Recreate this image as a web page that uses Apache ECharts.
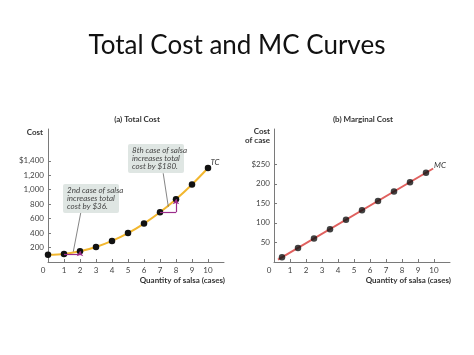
<!DOCTYPE html>
<html>
<head>
<meta charset="utf-8">
<script src="https://cdn.jsdelivr.net/npm/echarts@6/dist/echarts.min.js"></script>
<style>
html,body{margin:0;padding:0;background:#fff;}
#c{width:474px;height:355px;}
</style>
</head>
<body>
<div id="c"></div>
<script>
// ---- data ----
const tcQuantity = [0, 1, 2, 3, 4, 5, 6, 7, 8, 9, 10];
const tcCost = [100, 112, 148, 208, 292, 400, 532, 688, 868, 1072, 1300];
const mcQuantity = [0.5, 1.5, 2.5, 3.5, 4.5, 5.5, 6.5, 7.5, 8.5, 9.5];
const mcCost = [12, 36, 60, 84, 108, 132, 156, 180, 204, 228];
const mcLineQuantity = [0.25, 9.95];
const mcLineCost = [6, 239];
const xTicks = [0, 1, 2, 3, 4, 5, 6, 7, 8, 9, 10];
const tcTicks = [200, 400, 600, 800, 1000, 1200, 1400];
const mcTicks = [50, 100, 150, 200, 250];
const note2nd = ['2nd case of salsa', 'increases total', 'cost by $36.'];
const note8th = ['8th case of salsa', 'increases total', 'cost by $180.'];
// leader lines (data coords): [from, to]
const leader2nd = [[2.06, 696], [1.58, 142]];
const leader8th = [[7.2, 1228], [7.52, 765]];

const F = 'Lato, Roboto, sans-serif';
const axisColor = '#7a7a7a';
const labelColor = '#444';

function fmtCost(v) {
  const s = v.toLocaleString('en-US');
  return v === 1400 ? '$' + s : s;
}

const chart = echarts.init(document.getElementById('c'));

function xAxisDef(gi) {
  return {
    type: 'value', gridIndex: gi, min: 0, max: 11, interval: 1,
    axisLine: {lineStyle: {color: axisColor, width: 1}},
    axisTick: {show: true, inside: true, length: 3, lineStyle: {color: axisColor}, customValues: xTicks},
    axisLabel: {
      color: labelColor, fontSize: 8, fontFamily: F, margin: 4,
      customValues: xTicks,
      formatter: v => v === 0 ? '{z|0}' : String(v),
      rich: {z: {padding: [0, 10, 0, 0], fontSize: 8, fontFamily: F, color: labelColor}}
    },
    splitLine: {show: false}
  };
}

const step = (i) => [
  [{coord: [tcQuantity[i - 1], tcCost[i - 1]], symbol: 'none'}, {coord: [tcQuantity[i], tcCost[i - 1]], symbol: 'none'}],
  [{coord: [tcQuantity[i], tcCost[i - 1]], symbol: 'none'}, {coord: [tcQuantity[i], tcCost[i]], symbol: 'arrow', symbolSize: 5}]
];

const option = {
  animation: false,
  backgroundColor: '#fff',
  title: {
    text: 'Total Cost and MC Curves', left: 'center', top: 28,
    textStyle: {fontFamily: 'Lato, sans-serif', fontWeight: 'normal', fontSize: 26, color: '#111'}
  },
  grid: [
    {left: 48, top: 129, width: 176, height: 133},
    {left: 274, top: 129, width: 176, height: 133}
  ],
  xAxis: [xAxisDef(0), xAxisDef(1)],
  yAxis: [
    {
      type: 'value', gridIndex: 0, min: 0, max: 1840, interval: 200,
      axisLine: {show: true, lineStyle: {color: axisColor}},
      axisTick: {show: true, inside: true, length: 3, lineStyle: {color: axisColor}, customValues: tcTicks},
      axisLabel: {color: labelColor, fontSize: 8, fontFamily: F, margin: 4, customValues: tcTicks, formatter: fmtCost},
      splitLine: {show: false}
    },
    {
      type: 'value', gridIndex: 1, min: 0, max: 340, interval: 50,
      axisLine: {show: true, lineStyle: {color: axisColor}},
      axisTick: {show: true, inside: true, length: 3, lineStyle: {color: axisColor}, customValues: mcTicks},
      axisLabel: {color: labelColor, fontSize: 8, fontFamily: F, margin: 4, customValues: mcTicks,
        formatter: v => v === 250 ? '$250' : String(v)},
      splitLine: {show: false}
    }
  ],
  series: [
    {
      type: 'line', xAxisIndex: 0, yAxisIndex: 0, smooth: 0.3,
      data: tcQuantity.map((q, i) => [q, tcCost[i]]),
      lineStyle: {color: '#f2b72f', width: 2},
      symbol: 'circle', symbolSize: 6.5,
      itemStyle: {color: '#111'},
      z: 3,
      markLine: {
        silent: true, animation: false,
        label: {show: false},
        lineStyle: {color: '#9b2d8a', width: 1.2, type: 'solid'},
        data: [
          ...step(2), ...step(8),
          [{coord: leader2nd[0], symbol: 'none', lineStyle: {color: '#666', width: 0.8}}, {coord: leader2nd[1], symbol: 'none'}],
          [{coord: leader8th[0], symbol: 'none', lineStyle: {color: '#666', width: 0.8}}, {coord: leader8th[1], symbol: 'none'}]
        ]
      }
    },
    {
      type: 'line', xAxisIndex: 1, yAxisIndex: 1,
      data: mcLineQuantity.map((q, i) => [q, mcLineCost[i]]),
      lineStyle: {color: '#e0605e', width: 2},
      symbol: 'none', z: 2
    },
    {
      type: 'scatter', xAxisIndex: 1, yAxisIndex: 1,
      data: mcQuantity.map((q, i) => [q, mcCost[i]]),
      symbol: 'circle', symbolSize: 6.5,
      itemStyle: {color: '#111'}, z: 3
    }
  ],
  graphic: [
    {type: 'text', x: 137, y: 119, style: {text: '(a) Total Cost', font: 'bold 8px ' + F, fill: '#333', align: 'center', verticalAlign: 'middle'}},
    {type: 'text', x: 363, y: 119, style: {text: '(b) Marginal Cost', font: 'bold 8px ' + F, fill: '#333', align: 'center', verticalAlign: 'middle'}},
    {type: 'text', x: 43, y: 132, style: {text: 'Cost', font: 'bold 8px ' + F, fill: '#333', align: 'right', verticalAlign: 'middle'}},
    {type: 'text', x: 270, y: 136, style: {text: 'Cost\nof case', font: 'bold 8px ' + F, fill: '#333', align: 'right', verticalAlign: 'middle', lineHeight: 8.5}},
    {type: 'text', x: 225, y: 280, style: {text: 'Quantity of salsa (cases)', font: 'bold 8px ' + F, fill: '#333', align: 'right', verticalAlign: 'middle'}},
    {type: 'text', x: 451, y: 280, style: {text: 'Quantity of salsa (cases)', font: 'bold 8px ' + F, fill: '#333', align: 'right', verticalAlign: 'middle'}},
    {type: 'text', x: 215, y: 162, style: {text: 'TC', font: 'italic 8px ' + F, fill: '#333', align: 'center', verticalAlign: 'middle'}},
    {type: 'text', x: 440, y: 165, style: {text: 'MC', font: 'italic 8px ' + F, fill: '#333', align: 'center', verticalAlign: 'middle'}},
    {type: 'text', x: 63, y: 184, z: 10, style: {text: note2nd.join('\n'), font: 'italic 8px ' + F, fill: '#444',
      backgroundColor: '#dfe6e3', padding: [2.5, 4, 2.5, 4], borderRadius: 2, lineHeight: 8, width: 48, align: 'left', verticalAlign: 'top'}},
    {type: 'text', x: 128, y: 144, z: 10, style: {text: note8th.join('\n'), font: 'italic 8px ' + F, fill: '#444',
      backgroundColor: '#dfe6e3', padding: [2.5, 4, 2.5, 4], borderRadius: 2, lineHeight: 8, width: 48, align: 'left', verticalAlign: 'top'}}
  ]
};
chart.setOption(option);
</script>
</body>
</html>
